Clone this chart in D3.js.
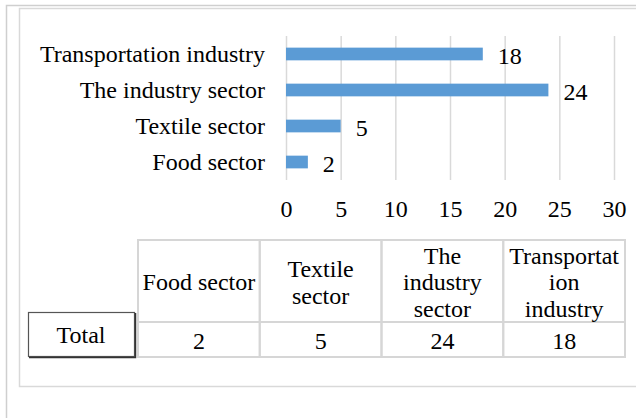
<!DOCTYPE html>
<html>
<head>
<meta charset="utf-8">
<script src="https://cdn.jsdelivr.net/npm/d3@7"></script>
<style>
  body { margin: 0; background: #fff; }
  svg text { font-family: "Liberation Serif", Tinos, "Times New Roman", Times, "DejaVu Serif", serif !important; fill: #000; }
</style>
</head>
<body>
<div id="container"></div>
<script>
/* CONSTANTS AND GLOBALS */
const width = 636,
  height = 418,
  fontSize = 24,
  serif = '"Liberation Serif", Tinos, "Times New Roman", Times, "DejaVu Serif", serif';

/* DATA */
const categories = ["Food sector", "Textile sector", "The industry sector", "Transportation industry"];
const values = [2, 5, 24, 18];
const xTicks = [0, 5, 10, 15, 20, 25, 30];
const tableHeaders = [["Food sector"], ["Textile", "sector"], ["The", "industry", "sector"], ["Transportat", "ion", "industry"]];
const rowLabel = "Total";

const data = categories.map((c, i) => ({ cat: c, value: values[i] }));

const svg = d3.select("#container")
  .append("svg")
  .attr("width", width)
  .attr("height", height)
  .attr("font-family", serif)
  .style("background-color", "white");

// outer frames
svg.append("path")
  .attr("d", `M6.5,${height} V5.5 H${width}`)
  .attr("fill", "none")
  .attr("stroke", "#cfcfcf")
  .attr("stroke-width", 1.5);

svg.append("rect")
  .attr("x", 19.5).attr("y", 8.5)
  .attr("width", width).attr("height", 378)
  .attr("fill", "none")
  .attr("stroke", "#d9d9d9")
  .attr("stroke-width", 1.5);

/* SCALES */
const xScale = d3.scaleLinear()
  .domain([0, 30])
  .range([286, 614]);

const yScale = d3.scaleBand()
  .domain(categories)
  .range([180, 36])
  .paddingInner(0.647)
  .paddingOuter(0.323);

/* GRID */
svg.append("g")
  .selectAll("line")
  .data(xTicks)
  .join("line")
  .attr("x1", d => xScale(d) + 0.5)
  .attr("x2", d => xScale(d) + 0.5)
  .attr("y1", 36)
  .attr("y2", 180)
  .attr("stroke", "#d9d9d9")
  .attr("stroke-width", 1.5);

/* BARS */
svg.selectAll(".bar")
  .data(data)
  .join("rect")
  .attr("class", "bar")
  .attr("x", xScale(0))
  .attr("y", d => yScale(d.cat))
  .attr("width", d => xScale(d.value) - xScale(0))
  .attr("height", yScale.bandwidth())
  .attr("fill", "#5b9bd5");

// value labels
svg.selectAll(".val")
  .data(data)
  .join("text")
  .attr("class", "val")
  .attr("x", d => xScale(d.value) + 15)
  .attr("y", d => yScale(d.cat) + yScale.bandwidth() / 2 + 10)
  .style("font-size", fontSize + "px")
  .text(d => d.value);

/* AXES */
const yAxis = svg.append("g")
  .attr("transform", `translate(${xScale(0) - 21},0)`)
  .call(d3.axisLeft(yScale).tickSize(0).tickPadding(0))
  .attr("font-family", serif);
yAxis.select(".domain").remove();
yAxis.selectAll("text")
  .style("font-size", fontSize + "px")
  .attr("dy", "0.32em");

const xAxis = svg.append("g")
  .attr("transform", `translate(0,200)`)
  .call(d3.axisBottom(xScale).tickValues(xTicks).tickSize(0).tickPadding(0))
  .attr("font-family", serif);
xAxis.select(".domain").remove();
xAxis.selectAll("text")
  .style("font-size", fontSize + "px")
  .attr("dy", "0.71em");

/* TABLE */
const colScale = d3.scaleBand()
  .domain(categories)
  .range([138, 625]);

const tTop = 240, tMid = 322, tBot = 357;
const table = svg.append("g");

table.selectAll(".cell-head")
  .data(categories)
  .join("rect")
  .attr("x", d => colScale(d))
  .attr("y", tTop)
  .attr("width", colScale.bandwidth())
  .attr("height", tMid - tTop)
  .attr("fill", "none")
  .attr("stroke", "#d6d6d6")
  .attr("stroke-width", 2);

table.selectAll(".cell-val")
  .data(categories)
  .join("rect")
  .attr("x", d => colScale(d))
  .attr("y", tMid)
  .attr("width", colScale.bandwidth())
  .attr("height", tBot - tMid)
  .attr("fill", "none")
  .attr("stroke", "#d6d6d6")
  .attr("stroke-width", 2);

const lineH = 26.5;
table.selectAll(".head")
  .data(tableHeaders)
  .join("text")
  .attr("class", "head")
  .attr("text-anchor", "middle")
  .style("font-size", fontSize + "px")
  .each(function (lines, i) {
    const cx = colScale(categories[i]) + colScale.bandwidth() / 2;
    const cy = (tTop + tMid) / 2 + 1;
    d3.select(this).selectAll("tspan")
      .data(lines)
      .join("tspan")
      .attr("x", cx)
      .attr("y", (l, j) => cy + (j - (lines.length - 1) / 2) * lineH)
      .attr("dy", "0.35em")
      .text(l => l);
  });

table.selectAll(".tval")
  .data(data)
  .join("text")
  .attr("class", "tval")
  .attr("text-anchor", "middle")
  .attr("x", d => colScale(d.cat) + colScale.bandwidth() / 2)
  .attr("y", (tMid + tBot) / 2 + 1)
  .attr("dy", "0.35em")
  .style("font-size", fontSize + "px")
  .text(d => d.value);

// row label box
table.append("rect")
  .attr("x", 28.5).attr("y", 312.5)
  .attr("width", 106).attr("height", 44)
  .attr("fill", "white")
  .attr("stroke", "#555")
  .attr("stroke-width", 1.2);
table.append("path")
  .attr("d", "M29,357.5 H135.5 V313")
  .attr("fill", "none")
  .attr("stroke", "#333")
  .attr("stroke-width", 1.5);
table.append("text")
  .attr("x", 81)
  .attr("y", 335)
  .attr("dy", "0.35em")
  .attr("text-anchor", "middle")
  .style("font-size", fontSize + "px")
  .text(rowLabel);
</script>
</body>
</html>
